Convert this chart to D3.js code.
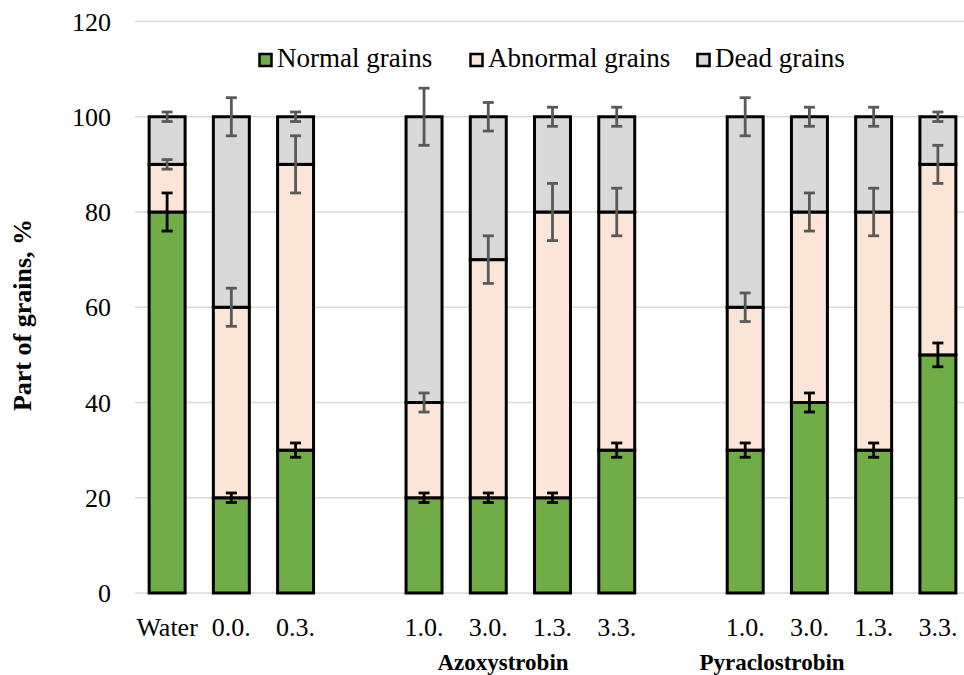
<!DOCTYPE html>
<html><head><meta charset="utf-8">
<script src="https://cdn.jsdelivr.net/npm/d3@7"></script>
<style>body{margin:0;background:#fff}svg{display:block}</style>
</head><body>
<svg id="c" width="964" height="675"></svg>
<script>
const slots = ["Water","0.0.","0.3.","gap1","A1.0.","A3.0.","A1.3.","A3.3.","gap2","P1.0.","P3.0.","P1.3.","P3.3."];
const categories = ["Water","0.0.","0.3.","A1.0.","A3.0.","A1.3.","A3.3.","P1.0.","P3.0.","P1.3.","P3.3."];
const tickLabels = ["Water","0.0.","0.3.","1.0.","3.0.","1.3.","3.3.","1.0.","3.0.","1.3.","3.3."];
const normal   = [80,20,30,20,20,20,30,30,40,30,50];
const abnormal = [10,40,60,20,50,60,50,30,40,50,40];
const dead     = [10,40,10,60,30,20,20,40,20,20,10];
const normalErr   = [4,1,1.5,1,1,1,1.5,1.5,2,1.5,2.5];
const abnormalErr = [1,4,6,2,5,6,5,3,4,5,4];
const deadErr     = [1,4,1,6,3,2,2,4,2,2,1];
const yTicks = [0,20,40,60,80,100,120];
const seriesNames = ["Normal grains","Abnormal grains","Dead grains"];
const colors = ["#70ad47","#fbe5d6","#d9d9d9"];
const errColors = ["#000000","#595959","#595959"];
const groups = [{name:"Azoxystrobin", x:503},{name:"Pyraclostrobin", x:772}];

const FF = "Liberation Serif";
const svg = d3.select("#c");
const x = d3.scaleBand().domain(slots).range([135,970]).paddingInner(0.44).paddingOuter(0.22);
const y = d3.scaleLinear().domain([0,120]).range([593,21.5]);

svg.append("g").selectAll("line").data(yTicks).join("line")
  .attr("x1",135).attr("x2",964).attr("y1",d=>y(d)).attr("y2",d=>y(d))
  .attr("stroke","#d9d9d9").attr("stroke-width",1.5);
svg.append("g").selectAll("text").data(yTicks).join("text")
  .attr("x",111).attr("y",d=>y(d)+9).attr("text-anchor","end")
  .style("font-family",FF).style("font-size","26px").text(d=>d);

const data = categories.map((c,i)=>({c, vals:[normal[i],abnormal[i],dead[i]], errs:[normalErr[i],abnormalErr[i],deadErr[i]]}));
const stack = d3.stack().keys([0,1,2]).value((d,k)=>d.vals[k])(data);

const bw = x.bandwidth();
stack.forEach((layer,k)=>{
  svg.append("g").selectAll("rect").data(layer).join("rect")
    .attr("x",d=>x(d.data.c)).attr("width",bw)
    .attr("y",d=>y(d[1])).attr("height",d=>y(d[0])-y(d[1]))
    .attr("fill",colors[k]).attr("stroke","#000").attr("stroke-width",3);
});
stack.forEach((layer,k)=>{
  const g = svg.append("g").attr("stroke",errColors[k]).attr("stroke-width",2.8);
  layer.forEach(d=>{
    const cx = x(d.data.c)+bw/2, e = d.data.errs[k];
    const t = y(d[1]+e), b = y(d[1]-e);
    g.append("line").attr("x1",cx).attr("x2",cx).attr("y1",t).attr("y2",b);
    g.append("line").attr("x1",cx-5.5).attr("x2",cx+5.5).attr("y1",t).attr("y2",t);
    g.append("line").attr("x1",cx-5.5).attr("x2",cx+5.5).attr("y1",b).attr("y2",b);
  });
});
svg.append("g").selectAll("text").data(categories).join("text")
  .attr("x",d=>x(d)+bw/2).attr("y",636).attr("text-anchor","middle")
  .style("font-family",FF).style("font-size","26px").text((d,i)=>tickLabels[i]);
svg.append("g").selectAll("text").data(groups).join("text")
  .attr("x",d=>d.x).attr("y",670).attr("text-anchor","middle")
  .style("font-family",FF).style("font-size","23px").style("font-weight","bold").text(d=>d.name);
svg.append("text").attr("transform","translate(31,315) rotate(-90)")
  .attr("text-anchor","middle").style("font-family",FF).style("font-size","26px")
  .style("font-weight","bold").text("Part of grains, %");
const legX = [258,469,696];
const lg = svg.append("g");
seriesNames.forEach((n,i)=>{
  lg.append("rect").attr("x",legX[i]+1.5).attr("y",54).attr("width",12).attr("height",12)
    .attr("fill",colors[i]).attr("stroke","#000").attr("stroke-width",2.5);
  lg.append("text").attr("x",legX[i]+19).attr("y",67)
    .style("font-family",FF).style("font-size","27px").text(n);
});
</script>
</body></html>
